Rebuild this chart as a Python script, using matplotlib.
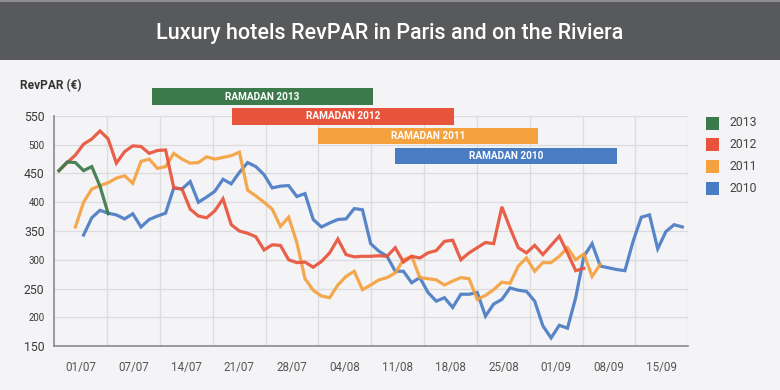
import numpy as np
import matplotlib
matplotlib.use('Agg')
import matplotlib.pyplot as plt
from matplotlib.patches import Rectangle

plt.rcParams['font.family'] = ['Roboto', 'DejaVu Sans']

# daily RevPAR (EUR), one list per summer
years = ['2013', '2012', '2011', '2010']
colors = ['#3c7a4b', '#e8533b', '#f5a13d', '#4a7cc4']

revpar_2013 = [455, 470, 469, 455, 462, 428, 380]
revpar_2012 = [455, 469, 482, 501, 510, 524, 510, 468, 488, 498, 497, 485, 490,
               491, 425, 423, 388, 376, 373, 385, 406, 361, 350, 346, 340, 317,
               326, 325, 300, 295, 296, 287, 297, 312, 336, 309, 305, 306, 306,
               307, 306, 321, 296, 306, 303, 312, 316, 332, 334, 300, 312, 321,
               330, 328, 392, 355, 321, 312, 325, 309, 325, 341, 312, 281, 285]
revpar_2011 = [357, 400, 423, 429, 434, 442, 446, 433, 471, 475, 459, 462, 485,
               475, 468, 469, 479, 475, 478, 481, 487, 421, 411, 400, 388, 358,
               374, 330, 267, 247, 237, 234, 256, 271, 280, 248, 256, 265, 269,
               277, 300, 306, 269, 267, 265, 256, 263, 269, 267, 231, 238, 248,
               261, 259, 289, 303, 280, 295, 295, 306, 321, 300, 310, 271, 292]
revpar_2010 = [343, 373, 386, 381, 378, 371, 380, 357, 370, 376, 381, 425, 423,
               436, 400, 409, 419, 440, 432, 452, 469, 462, 448, 425, 428, 429,
               410, 415, 370, 357, 364, 370, 371, 389, 387, 328, 315, 306, 280,
               280, 260, 269, 243, 228, 234, 217, 240, 240, 243, 202, 223, 231,
               251, 247, 245, 228, 185, 164, 186, 181, 234, 306, 328, 289, 286,
               283, 281, 332, 374, 378, 319, 349, 361, 357]
series = [revpar_2013, revpar_2012, revpar_2011, revpar_2010]
start_day = [0, 0, 2, 3]

week_labels = ['01/07', '07/07', '14/07', '21/07', '28/07', '04/08',
               '11/08', '18/08', '25/08', '01/09', '08/09', '15/09']

# Ramadan periods on the same day axis
ramadan_start = [11.9, 21.7, 32.1, 41.6]
ramadan_end = [38.8, 48.7, 59.0, 68.6]

BG = '#f4f4f6'
GRID = '#dcdcdf'
X_SPAN = 77.3
X_OFF = 0.57

fig = plt.figure(figsize=(7.8, 3.9), dpi=100, facecolor=BG)

# title banner
fig.add_artist(Rectangle((0, 1 - 60 / 390), 1, 60 / 390, transform=fig.transFigure,
                         facecolor='#58595b', edgecolor='none'))
fig.add_artist(Rectangle((0, 1 - 2 / 390), 1, 2 / 390, transform=fig.transFigure,
                         facecolor='#8e8e90', edgecolor='none'))
fig.text(0.5, 1 - 33 / 390, 'Luxury hotels RevPAR in Paris and on the Riviera',
         ha='center', va='center', color='white', fontsize=15.5, fontweight='medium')

ax = fig.add_axes([54.3 / 780, 44 / 390, 634 / 780, 230 / 390])
ax.set_facecolor(BG)
ax.set_xlim(0, X_SPAN)
ax.set_ylim(150, 550)

# grid
yt = np.arange(150, 551, 50)
for v in yt[1:]:
    ax.axhline(v, color=GRID, lw=0.9, zorder=0)
edges = np.linspace(0, X_SPAN, 13)
for e in edges[1:]:
    ax.axvline(e, color=GRID, lw=0.9, zorder=0)

for s in ['top', 'right']:
    ax.spines[s].set_visible(False)
for s in ['left', 'bottom']:
    ax.spines[s].set_color('#8a8a8c')
    ax.spines[s].set_linewidth(1.2)

ax.set_yticks(yt)
ax.set_yticklabels([str(v) for v in yt])
for v, lab in zip(yt, ax.get_yticklabels()):
    lab.set_fontsize(8.8 if v % 100 == 50 else 6.9)
    lab.set_color('#3a3a3a')
ax.tick_params(axis='y', length=0, pad=7)

centers = (edges[:-1] + edges[1:]) / 2
ax.set_xticks(centers)
ax.set_xticklabels(week_labels, fontsize=8.4, color='#555555')
ax.tick_params(axis='x', length=0, pad=11)

# lines, oldest first so 2013 sits on top
for yr, vals, st, c in reversed(list(zip(years, series, start_day, colors))):
    x = np.arange(len(vals)) + st + X_OFF
    ax.plot(x, vals, color=c, lw=2.3, alpha=0.92, solid_joinstyle='miter', zorder=3)

# Ramadan bars, stacked above the plot
for k, (yr, a, b, c) in enumerate(zip(years, ramadan_start, ramadan_end, colors)):
    top = 598 - k * 34.5
    ax.add_patch(Rectangle((a, top - 28.5), b - a, 28.5, facecolor=c,
                           edgecolor='none', clip_on=False, zorder=4))
    ax.text((a + b) / 2, top - 14.25, 'RAMADAN ' + yr, ha='center', va='center',
            color='white', fontsize=7.2, fontweight='bold', clip_on=False, zorder=5)

fig.text(20 / 780, 1 - 86 / 390, 'RevPAR (€)', ha='left', va='center',
         fontsize=8.6, fontweight='bold', color='#333333')

# legend
for k, (yr, c) in enumerate(zip(years, colors)):
    yc = 123 + k * 21.8
    fig.add_artist(Rectangle((705.7 / 780, 1 - (yc + 6.5) / 390), 13.3 / 780, 13 / 390,
                             transform=fig.transFigure, facecolor=c, edgecolor='none'))
    fig.text(729.5 / 780, 1 - yc / 390, yr, ha='left', va='center',
             fontsize=8.8, color='#444444')

fig.savefig('out.png', dpi=100, facecolor=BG)
